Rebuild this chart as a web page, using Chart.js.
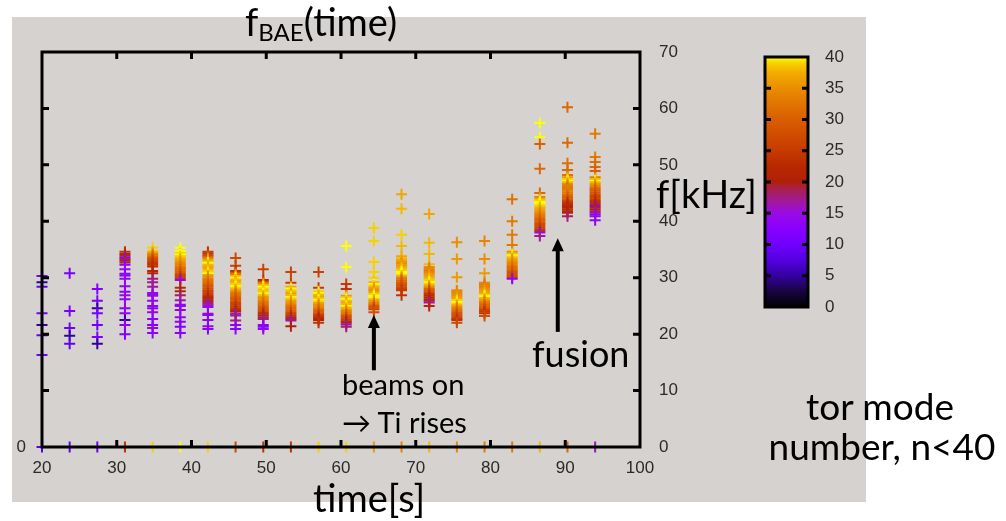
<!DOCTYPE html>
<html><head><meta charset="utf-8">
<script src="https://cdn.jsdelivr.net/npm/chart.js@4.4.0/dist/chart.umd.min.js"></script>
<style>
html,body{margin:0;padding:0;background:#fff;width:1006px;height:521px;overflow:hidden;}
#bg{position:absolute;left:12px;top:17px;width:854px;height:485px;background:#d5d2cf;}
canvas{position:absolute;}
.t{position:absolute;font-family:Lato,'Open Sans',sans-serif;color:#000;white-space:nowrap;line-height:1;}
</style></head><body>
<div id="bg"></div>
<canvas id="main" width="1006" height="521" style="left:0;top:0"></canvas>
<canvas id="cbar" width="140" height="290" style="left:740px;top:40px"></canvas>
<div class="t" style="left:245px;top:2px;font-size:38px">f<span style="font-size:24px;position:relative;top:5px">BAE</span>(time)</div>
<div class="t" style="left:313px;top:478px;font-size:38px">time[s]</div>
<div class="t" style="left:656px;top:174px;font-size:38px">f[kHz]</div>
<div class="t" style="left:532px;top:335px;font-size:36px">fusion</div>
<div class="t" style="left:342px;top:369px;font-size:29px">beams on</div>
<div class="t" style="left:342px;top:407px;font-size:29px">→ Ti rises</div>
<div class="t" style="left:760px;top:387px;width:240px;text-align:center;font-size:37px">tor mode</div>
<div class="t" style="left:762px;top:427px;width:240px;text-align:center;font-size:37px">number, n&lt;40</div>
<script>
// ---- data ----
const times = [20, 23.7, 27.4, 31.1, 34.8, 38.5, 42.2, 45.9, 49.6, 53.3, 57.0, 60.7, 64.4, 68.1, 71.8, 75.5, 79.2, 82.9, 86.6, 90.3, 94.0];
const xTicks = [20, 30, 40, 50, 60, 70, 80, 90, 100];
const yTicks = [0, 10, 20, 30, 40, 50, 60, 70];
const cbarTicks = [0, 5, 10, 15, 20, 25, 30, 35, 40];
// each column: [frequency kHz, toroidal mode number n]
const col01 = [[30.3,10],[29.2,5],[28.4,9],[23.7,11],[21.6,5],[19.8,9],[16.3,10]];
const col02 = [[30.8,11],[24.1,11],[21.1,10],[19.7,5],[18.3,9]];
const col03 = [[28.0,12],[25.9,11],[24.6,5],[23.7,11],[21.6,10],[19.5,11],[18.3,5]];
const col04 = [[34.6,24],[34.2,22],[33.9,19],[33.6,13],[33.3,18],[33.0,20],[32.7,19],[32.3,13],[31.5,15],[30.7,13],[30.4,12],[29.8,14],[28.5,14],[27.5,13],[26.9,15],[26.2,14],[24.6,13],[23.7,14],[22.5,5],[21.6,13],[20.0,12]];
const col05 = [[35.3,39],[34.7,38],[34.4,36],[34.1,33],[33.8,31],[33.5,29],[33.2,27],[32.9,26],[32.6,25],[32.3,24],[32.0,23],[31.2,22],[30.8,21],[29.8,18],[29.2,17],[28.4,17],[27.3,14],[27.0,14],[26.8,15],[25.9,14],[25.0,14],[24.6,13],[23.9,14],[22.7,13],[21.6,12],[21.1,14],[20.2,13]];
const col06 = [[35.3,40],[34.7,40],[34.4,39],[34.1,40],[33.8,39],[33.5,38],[33.2,37],[32.9,36],[32.6,35],[32.3,34],[32.0,33],[31.7,32],[31.4,31],[31.1,30],[30.8,28],[30.5,27],[30.2,26],[29.9,24],[29.6,14],[28.2,22],[27.6,21],[26.9,18],[26.0,17],[25.2,14],[25.0,14],[24.3,13],[23.0,14],[22.2,13],[21.3,12],[20.2,13]];
const col07 = [[34.6,25],[34.3,24],[34.0,26],[33.7,30],[33.4,34],[33.1,37],[32.8,39],[32.6,40],[32.3,38],[32.0,37],[31.7,37],[31.4,38],[31.1,39],[30.8,40],[30.5,37],[30.2,35],[29.9,34],[29.6,33],[29.3,32],[29.0,31],[28.7,30],[28.4,29],[28.1,28],[27.8,27],[27.5,26],[27.2,25],[26.9,24],[26.6,23],[26.3,22],[26.0,21],[25.7,19],[25.4,17],[25.1,16],[24.8,15],[23.6,14],[23.4,14],[22.5,13],[21.4,14],[20.9,13]];
const col08 = [[33.5,27],[32.1,26],[31.2,23],[30.9,28],[30.6,33],[30.3,38],[30.0,40],[29.7,38],[29.4,37],[29.1,38],[28.8,39],[28.5,40],[28.2,39],[27.9,37],[27.6,35],[27.3,33],[27.0,32],[26.7,31],[26.4,30],[26.1,29],[25.8,28],[25.5,27],[25.2,26],[24.9,25],[24.6,24],[24.3,23],[24.0,21],[23.6,17],[23.3,16],[22.4,18],[21.6,14],[20.9,13]];
const col09 = [[31.5,26],[29.6,22],[29.3,27],[29.0,34],[28.7,38],[28.4,40],[28.1,39],[27.8,38],[27.5,39],[27.2,40],[26.9,38],[26.6,36],[26.3,35],[26.0,34],[25.7,33],[25.4,32],[25.1,31],[24.8,30],[24.5,28],[24.2,27],[23.9,25],[23.6,23],[23.3,21],[23.0,19],[22.7,18],[21.6,13],[21.3,13],[20.9,14]];
const col10 = [[31.0,26],[29.1,25],[28.4,37],[28.1,40],[27.8,39],[27.5,38],[27.2,36],[26.9,38],[26.6,40],[26.3,39],[26.0,37],[25.7,36],[25.4,35],[25.1,33],[24.8,32],[24.5,31],[24.2,30],[23.9,28],[23.6,26],[23.3,24],[23.0,22],[22.7,19],[22.4,17],[21.4,20]];
const col11 = [[31.0,26],[28.2,25],[27.6,39],[27.3,40],[27.0,38],[26.7,37],[26.4,38],[26.1,40],[25.8,39],[25.5,37],[25.2,35],[24.9,34],[24.6,33],[24.3,31],[24.0,30],[23.7,28],[23.4,26],[23.1,24],[22.8,22],[22.5,21],[22.0,24]];
const col12 = [[35.6,40],[31.9,40],[28.9,25],[28.0,24],[26.8,36],[26.5,39],[26.2,40],[25.9,38],[25.6,37],[25.3,38],[25.0,40],[24.7,38],[24.4,36],[24.1,34],[23.8,33],[23.5,31],[23.2,29],[22.9,27],[22.6,25],[22.3,23],[22.0,21],[21.7,16],[21.3,18]];
const col13 = [[38.8,39],[36.5,39],[32.8,39],[31.0,39],[30.0,39],[29.2,38],[28.9,40],[28.6,39],[28.3,37],[28.0,36],[27.7,35],[27.4,37],[27.1,39],[26.8,40],[26.5,40],[26.2,38],[25.9,36],[25.6,34],[25.3,32],[25.0,30],[24.7,28],[24.4,26],[23.9,28]];
const col14 = [[44.8,37],[42.2,38],[37.6,39],[35.6,38],[33.8,37],[33.4,38],[33.1,37],[32.8,36],[32.5,35],[32.2,36],[31.9,37],[31.6,38],[31.3,39],[31.0,40],[30.7,40],[30.4,38],[30.1,35],[29.8,33],[29.5,31],[29.2,30],[28.9,29],[28.6,28],[28.3,27],[28.0,26],[27.8,25],[26.9,24]];
const col15 = [[41.3,37],[36.2,38],[34.2,38],[32.4,38],[31.9,35],[31.6,34],[31.3,33],[31.0,34],[30.7,35],[30.4,36],[30.1,37],[29.8,38],[29.5,39],[29.2,40],[28.9,39],[28.6,37],[28.3,34],[28.0,31],[27.7,29],[27.4,27],[27.1,25],[26.8,23],[26.5,22],[26.2,22],[25.9,21],[25.6,16],[25.0,22]];
const col16 = [[36.3,35],[33.3,36],[30.1,36],[27.8,35],[27.5,34],[27.2,34],[26.9,35],[26.6,36],[26.3,37],[26.0,39],[25.7,40],[25.4,39],[25.1,37],[24.8,35],[24.5,33],[24.2,31],[23.9,30],[23.6,28],[23.3,27],[23.0,26],[22.7,25],[22.5,24],[22.0,27]];
const col17 = [[36.5,34],[33.3,35],[30.8,36],[29.1,34],[28.8,33],[28.5,33],[28.2,34],[27.9,35],[27.6,36],[27.3,37],[27.0,39],[26.7,40],[26.4,38],[26.1,36],[25.8,34],[25.5,33],[25.2,31],[24.9,30],[24.6,28],[24.3,27],[24.0,25],[23.7,24],[23.2,28]];
const col18 = [[43.9,32],[40.0,33],[37.6,33],[35.8,33],[34.6,35],[34.3,38],[34.0,40],[33.7,39],[33.4,37],[33.1,36],[32.8,35],[32.5,34],[32.2,33],[31.9,32],[31.6,31],[31.3,30],[31.0,29],[30.7,28],[30.4,27],[30.1,26],[29.8,14]];
const col19 = [[57.4,40],[54.9,40],[53.7,30],[49.3,31],[45.0,31],[44.3,34],[44.0,37],[43.7,39],[43.4,40],[43.1,40],[42.8,39],[42.5,38],[42.2,37],[41.9,36],[41.6,35],[41.3,34],[41.0,33],[40.7,32],[40.4,31],[40.1,30],[39.8,29],[39.5,28],[39.2,27],[38.9,26],[38.6,25],[38.3,24],[38.0,15],[37.4,17]];
const col20 = [[60.2,31],[53.9,31],[50.3,32],[49.1,31],[48.2,32],[47.8,36],[47.5,39],[47.2,40],[46.9,38],[46.6,35],[46.3,33],[46.0,32],[45.7,33],[45.4,34],[45.1,33],[44.8,32],[44.5,31],[44.2,30],[43.9,29],[43.6,27],[43.3,24],[43.0,23],[42.7,22],[42.4,22],[42.1,23],[41.8,22],[41.5,21],[40.9,18]];
const col21 = [[55.5,33],[51.4,33],[50.5,32],[49.6,31],[48.9,30],[47.8,33],[47.5,38],[47.2,40],[46.9,38],[46.6,36],[46.3,34],[46.0,32],[45.7,31],[45.4,30],[45.1,29],[44.8,28],[44.5,27],[44.2,26],[43.9,25],[43.6,24],[43.3,23],[43.0,22],[42.7,13],[42.4,21],[42.1,20],[41.8,19],[41.5,17],[41.2,14],[40.9,14],[40.2,14]];
const columns = [col01,col02,col03,col04,col05,col06,col07,col08,col09,col10,col11,col12,col13,col14,col15,col16,col17,col18,col19,col20,col21];
// mode number of the point sitting at f = 0 for each time
const zeroModes = [8, 9, 10, 24, 39, 40, 39, 27, 24, 24, 39, 39, 36, 34, 38, 34, 33, 33, 38, 31, 16];
// annotation arrows [time, f tail, f tip]
const arrows = [[64.4, 13.6, 23.4], [89.0, 20.4, 37.0]];
// colour map stops [n, colour]
const cmapStops = [[0,'#000000'],[2.5,'#180540'],[5,'#3400a0'],[7.5,'#5400e0'],[10,'#7000ff'],[12.5,'#8800ff'],[15,'#9a0ae6'],[17,'#a01a98'],[19,'#aa2048'],[20,'#b02008'],[22.5,'#b82800'],[25,'#c63a00'],[27.5,'#d04c00'],[30,'#da5e00'],[32.5,'#e27400'],[35,'#ea8e00'],[37.5,'#f2ac00'],[39,'#f8d000'],[40,'#ffff00']];

// ---- helpers ----
function hex(c){return [parseInt(c.substr(1,2),16),parseInt(c.substr(3,2),16),parseInt(c.substr(5,2),16)];}
function cmap(n){
  for(let i=0;i<cmapStops.length-1;i++){
    const [a,ca]=cmapStops[i],[b,cb]=cmapStops[i+1];
    if(n>=a&&n<=b){const t=(n-a)/(b-a);const A=hex(ca),B=hex(cb);
      return 'rgb('+A.map((v,k)=>Math.round(v+(B[k]-v)*t)).join(',')+')';}
  }
  return cmapStops[cmapStops.length-1][1];
}
const pts=[], pcols=[];
columns.forEach((col,i)=>col.forEach(([f,n])=>{pts.push({x:times[i],y:f});pcols.push(cmap(n));}));
zeroModes.forEach((n,i)=>{pts.push({x:times[i],y:0});pcols.push(cmap(n));});

const tickFont={family:"'Liberation Sans', Arial, sans-serif", size:17};
const tickColor='#2b2b2b';
const fixV=(w)=>(s)=>{s.width=w;s.paddingTop=0;s.paddingBottom=0;};

const framePlugin={id:'frame',afterDatasetsDraw(chart){
  const {ctx,chartArea:a,scales:{x,y}}=chart;
  ctx.save();ctx.strokeStyle='#000';ctx.lineWidth=3;
  ctx.strokeRect(a.left,a.top,a.right-a.left,a.bottom-a.top);
  ctx.beginPath();
  xTicks.slice(1,-1).forEach(v=>{const p=x.getPixelForValue(v);
    ctx.moveTo(p,a.bottom);ctx.lineTo(p,a.bottom-7);ctx.moveTo(p,a.top);ctx.lineTo(p,a.top+7);});
  yTicks.slice(1,-1).forEach(v=>{const p=y.getPixelForValue(v);
    ctx.moveTo(a.left,p);ctx.lineTo(a.left+7,p);ctx.moveTo(a.right,p);ctx.lineTo(a.right-7,p);});
  ctx.stroke();
  // arrows
  ctx.fillStyle='#000';ctx.lineWidth=4;
  arrows.forEach(([t,f0,f1])=>{
    const px=x.getPixelForValue(t),p0=y.getPixelForValue(f0),p1=y.getPixelForValue(f1);
    ctx.beginPath();ctx.moveTo(px,p0);ctx.lineTo(px,p1+10);ctx.stroke();
    ctx.beginPath();ctx.moveTo(px,p1);ctx.lineTo(px-6,p1+13);ctx.lineTo(px+6,p1+13);ctx.closePath();ctx.fill();
  });
  ctx.restore();
}};

new Chart(document.getElementById('main'),{
  type:'scatter',
  data:{datasets:[{data:pts,pointStyle:'cross',pointRadius:5.5,pointBorderWidth:2,pointBorderColor:pcols,pointBackgroundColor:pcols,clip:false}]},
  options:{responsive:false,animation:false,devicePixelRatio:1,
    layout:{padding:{left:12,right:316,top:52,bottom:34}},
    plugins:{legend:{display:false},tooltip:{enabled:false}},
    scales:{
      x:{type:'linear',min:20,max:100,afterBuildTicks:s=>{s.ticks=xTicks.map(v=>({value:v}));},
        ticks:{font:tickFont,color:tickColor,padding:11,maxRotation:0},
        grid:{display:false,drawTicks:false},border:{display:false},afterFit:s=>{s.height=40;}},
      y:{type:'linear',position:'right',min:0,max:70,afterBuildTicks:s=>{s.ticks=yTicks.map(v=>({value:v}));},
        ticks:{font:tickFont,color:tickColor,padding:19},
        grid:{display:false,drawTicks:false},border:{display:false},afterFit:fixV(50)},
      yl:{type:'linear',position:'left',min:0,max:70,afterBuildTicks:s=>{s.ticks=[{value:yTicks[0]}];},
        ticks:{font:tickFont,color:tickColor,padding:16},
        grid:{display:false,drawTicks:false},border:{display:false},afterFit:fixV(30)}
    }},
  plugins:[framePlugin]
});

const cbFrame={id:'cbframe',afterDatasetsDraw(chart){
  const {ctx,chartArea:a,scales:{y}}=chart;
  ctx.save();ctx.strokeStyle='#000';ctx.lineWidth=3;
  ctx.strokeRect(a.left,a.top,a.right-a.left,a.bottom-a.top);
  ctx.beginPath();
  cbarTicks.slice(1,-1).forEach(v=>{const p=y.getPixelForValue(v);
    ctx.moveTo(a.left,p);ctx.lineTo(a.left+6,p);ctx.moveTo(a.right,p);ctx.lineTo(a.right-6,p);});
  ctx.stroke();ctx.restore();
}};
new Chart(document.getElementById('cbar'),{
  type:'bar',
  data:{labels:['n'],datasets:[{data:[[cbarTicks[0],cbarTicks[cbarTicks.length-1]]],borderWidth:0,barPercentage:1,categoryPercentage:1,
    backgroundColor:(c)=>{const ch=c.chart;if(!ch.chartArea)return '#000';const y=ch.scales.y;
      const g=ch.ctx.createLinearGradient(0,y.getPixelForValue(0),0,y.getPixelForValue(40));
      cmapStops.forEach(([v,col])=>g.addColorStop(v/40,col));return g;}}]},
  options:{responsive:false,animation:false,devicePixelRatio:1,
    layout:{padding:{left:25,right:32,top:17,bottom:23}},
    plugins:{legend:{display:false},tooltip:{enabled:false}},
    scales:{
      x:{display:false},
      y:{position:'right',min:0,max:40,afterBuildTicks:s=>{s.ticks=cbarTicks.map(v=>({value:v}));},
        ticks:{font:tickFont,color:tickColor,padding:17},
        grid:{display:false,drawTicks:false},border:{display:false},afterFit:fixV(40)}
    }},
  plugins:[cbFrame]
});
</script>
</body></html>
